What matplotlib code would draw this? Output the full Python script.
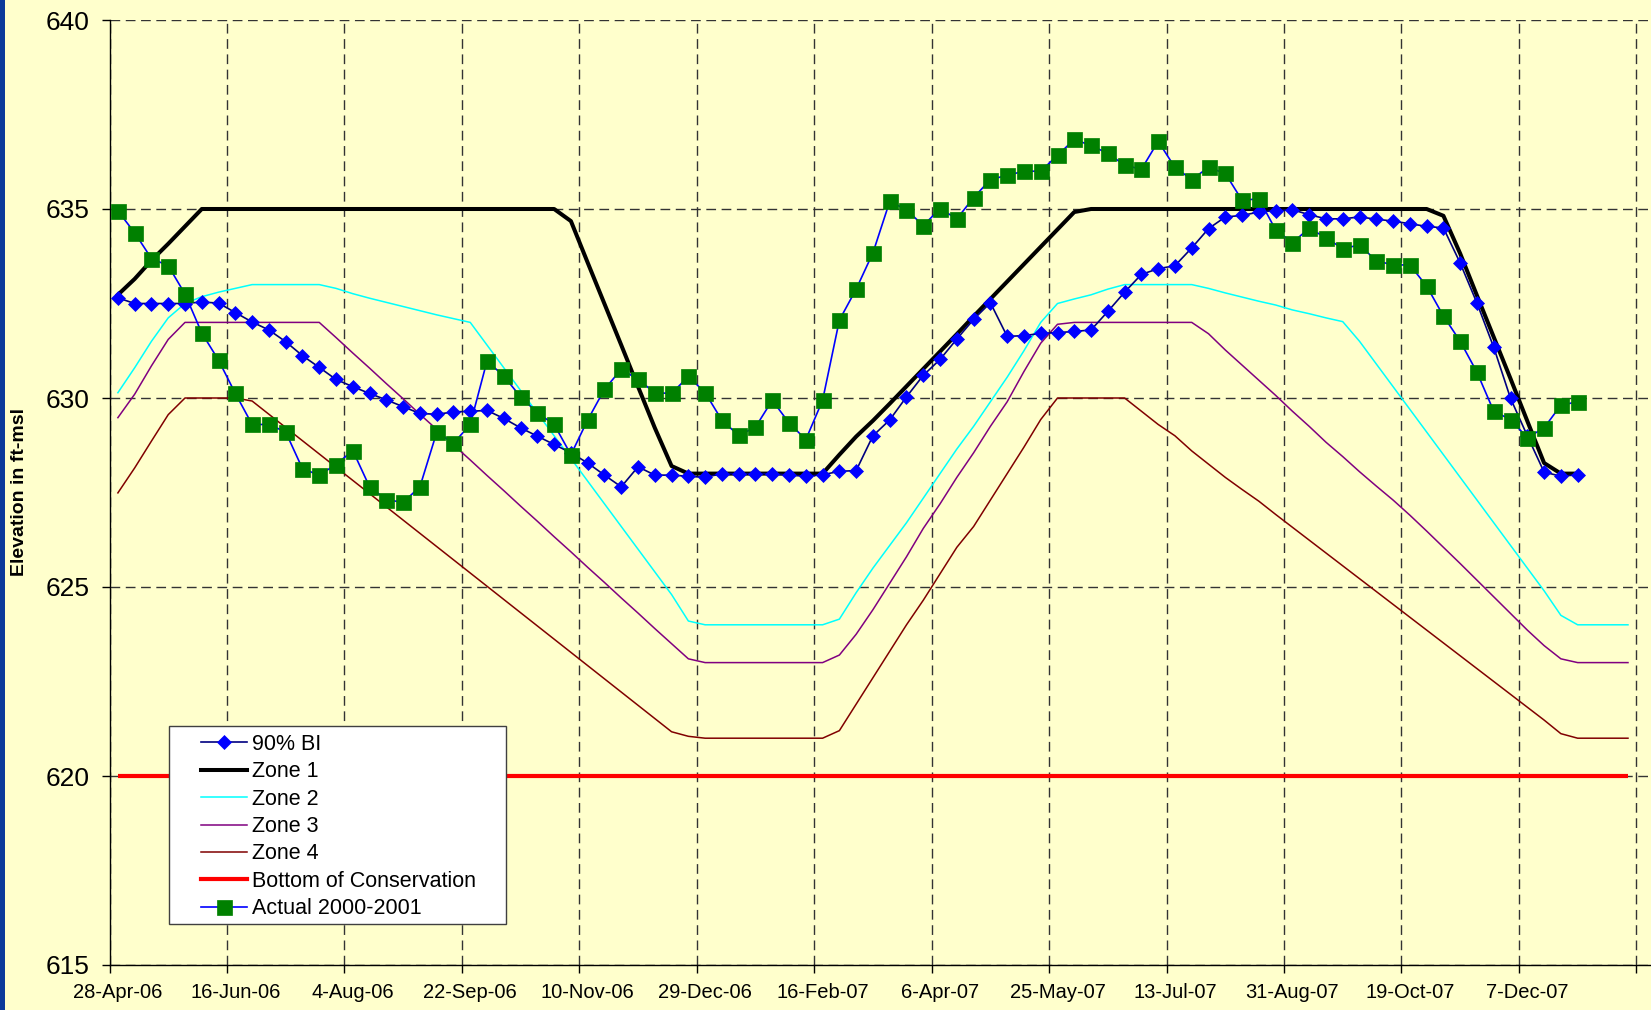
import numpy as np
import matplotlib
matplotlib.use("Agg")
import matplotlib.pyplot as plt
from matplotlib.patches import Rectangle
from matplotlib.lines import Line2D

plt.rcParams['font.family'] = ['Liberation Sans', 'DejaVu Sans']

# weekly categories, labels every 7 weeks
tick_labels = ["28-Apr-06", "16-Jun-06", "4-Aug-06", "22-Sep-06", "10-Nov-06",
               "29-Dec-06", "16-Feb-07", "6-Apr-07", "25-May-07", "13-Jul-07",
               "31-Aug-07", "19-Oct-07", "7-Dec-07"]

bi90 = [632.65, 632.50, 632.50, 632.50, 632.50, 632.54, 632.51, 632.26, 632.01, 631.80,
        631.49, 631.12, 630.81, 630.49, 630.30, 630.12, 629.95, 629.77, 629.59, 629.57,
        629.63, 629.65, 629.67, 629.46, 629.21, 628.99, 628.77, 628.55, 628.28, 627.96,
        627.65, 628.18, 627.96, 627.96, 627.93, 627.90, 628.00, 628.00, 628.00, 628.00,
        627.96, 627.93, 627.97, 628.06, 628.08, 629.00, 629.42, 630.03, 630.60, 631.02,
        631.56, 632.08, 632.52, 631.63, 631.65, 631.71, 631.73, 631.76, 631.80, 632.29,
        632.80, 633.27, 633.42, 633.50, 633.97, 634.48, 634.79, 634.83, 634.92, 634.96,
        634.98, 634.85, 634.74, 634.74, 634.79, 634.73, 634.68, 634.61, 634.54, 634.50,
        633.57, 632.51, 631.34, 629.99, 629.00, 628.04, 627.93, 627.97]

zone1 = [632.73, 633.15, 633.64, 634.08, 634.54, 635.0,
         635.0, 635.0, 635.0, 635.0, 635.0, 635.0, 635.0, 635.0, 635.0, 635.0, 635.0,
         635.0, 635.0, 635.0, 635.0, 635.0, 635.0, 635.0, 635.0, 635.0, 635.0,
         634.68, 633.58, 632.49, 631.40, 630.30, 629.21, 628.20,
         628.0, 628.0, 628.0, 628.0, 628.0, 628.0, 628.0, 628.0, 628.0,
         628.50, 628.98, 629.40, 629.85, 630.31, 630.77, 631.23, 631.69, 632.16, 632.62,
         633.08, 633.54, 634.00, 634.46, 634.92,
         635.0, 635.0, 635.0, 635.0, 635.0, 635.0, 635.0, 635.0, 635.0, 635.0, 635.0,
         635.0, 635.0, 635.0, 635.0, 635.0, 635.0, 635.0, 635.0, 635.0, 635.0,
         634.82, 633.82, 632.71, 631.61, 630.51, 629.39, 628.28, 628.0, 628.0]

zone2 = [630.14, 630.80, 631.50, 632.12, 632.50, 632.68, 632.80, 632.90, 633.0, 633.0,
         633.0, 633.0, 633.0, 632.90, 632.76, 632.64, 632.53, 632.42, 632.31, 632.20,
         632.10, 632.00, 631.40, 630.80, 630.20, 629.60, 629.00, 628.40, 627.80, 627.20,
         626.60, 626.00, 625.40, 624.80, 624.10, 624.0, 624.0, 624.0, 624.0, 624.0,
         624.0, 624.0, 624.0, 624.15, 624.85, 625.50, 626.10, 626.70, 627.35, 628.00,
         628.65, 629.25, 629.90, 630.55, 631.25, 632.00, 632.50, 632.62, 632.73, 632.88,
         633.0, 633.0, 633.0, 633.0, 633.0, 632.90, 632.78, 632.67, 632.56, 632.46,
         632.33, 632.23, 632.12, 632.02, 631.50, 630.90, 630.30, 629.70, 629.10, 628.50,
         627.90, 627.30, 626.70, 626.10, 625.50, 624.90, 624.25, 624.0, 624.0, 624.0,
         624.0]

zone3 = [629.48, 630.10, 630.85, 631.55, 632.0, 632.0, 632.0, 632.0, 632.0, 632.0,
         632.0, 632.0, 632.0, 631.60, 631.19, 630.79, 630.38, 629.98, 629.57, 629.17,
         628.76, 628.36, 627.95, 627.55, 627.14, 626.74, 626.33, 625.93, 625.52, 625.12,
         624.71, 624.31, 623.90, 623.50, 623.10, 623.0, 623.0, 623.0, 623.0, 623.0,
         623.0, 623.0, 623.0, 623.20, 623.75, 624.40, 625.10, 625.80, 626.55, 627.20,
         627.90, 628.55, 629.25, 629.90, 630.70, 631.45, 631.95, 632.0, 632.0, 632.0,
         632.0, 632.0, 632.0, 632.0, 632.0, 631.70, 631.27, 630.87, 630.47, 630.07,
         629.65, 629.25, 628.83, 628.45, 628.05, 627.67, 627.30, 626.90, 626.48, 626.05,
         625.62, 625.18, 624.74, 624.30, 623.86, 623.45, 623.10, 623.0, 623.0, 623.0,
         623.0]

zone4 = [627.49, 628.15, 628.86, 629.56, 630.0, 630.0, 630.0, 630.0, 629.92, 629.57,
         629.22, 628.87, 628.52, 628.17, 627.82, 627.47, 627.12, 626.77, 626.42, 626.07,
         625.72, 625.37, 625.02, 624.67, 624.32, 623.97, 623.62, 623.27, 622.92, 622.57,
         622.22, 621.87, 621.52, 621.17, 621.05, 621.0, 621.0, 621.0, 621.0, 621.0,
         621.0, 621.0, 621.0, 621.20, 621.90, 622.60, 623.30, 624.00, 624.65, 625.35,
         626.05, 626.60, 627.30, 628.00, 628.70, 629.43, 630.0, 630.0, 630.0, 630.0,
         630.0, 629.65, 629.30, 629.00, 628.60, 628.25, 627.90, 627.58, 627.27, 626.92,
         626.58, 626.24, 625.90, 625.56, 625.22, 624.88, 624.54, 624.20, 623.86, 623.52,
         623.18, 622.84, 622.50, 622.16, 621.82, 621.48, 621.12, 621.0, 621.0, 621.0,
         621.0]

bottom_cons = 620.0

actual = [634.95, 634.37, 633.69, 633.50, 632.75, 631.72, 631.00, 630.12, 629.30, 629.30,
          629.10, 628.13, 627.96, 628.24, 628.61, 627.65, 627.31, 627.24, 627.65, 629.09,
          628.80, 629.30, 630.98, 630.58, 630.03, 629.61, 629.30, 628.50, 629.42, 630.23,
          630.76, 630.49, 630.14, 630.12, 630.57, 630.14, 629.41, 629.01, 629.23, 629.94,
          629.34, 628.90, 629.94, 632.06, 632.88, 633.84, 635.20, 634.98, 634.56, 635.01,
          634.74, 635.30, 635.78, 635.89, 636.00, 636.00, 636.42, 636.84, 636.68, 636.47,
          636.16, 636.05, 636.79, 636.10, 635.78, 636.10, 635.94, 635.23, 635.27, 634.45,
          634.11, 634.49, 634.24, 633.95, 634.05, 633.63, 633.52, 633.52, 632.96, 632.17,
          631.50, 630.68, 629.65, 629.43, 628.95, 629.21, 629.81, 629.90]

W, H = 1651, 1010
fig = plt.figure(figsize=(W / 100, H / 100), dpi=100, facecolor='#FFFFCC')
ax = fig.add_axes([109.5 / W, 1 - 965 / H, 1 - 109.5 / W, (965 - 20) / H])
ax.set_facecolor('#FFFFCC')

xz = np.arange(len(zone2))
xs = np.arange(len(bi90))

ax.plot(xz, zone2, color='#00FFFF', lw=1.1, zorder=2)
ax.plot(xz, zone3, color='#800080', lw=1.1, zorder=2)
ax.plot(xz, zone4, color='#800000', lw=1.1, zorder=2)
ax.plot(xz, np.full(len(xz), bottom_cons), color='#FF0000', lw=3.0, zorder=2,
        solid_capstyle='butt')
ax.plot(xs, zone1, color='black', lw=2.9, zorder=2.2)
ax.plot(xs, bi90, color='#000080', lw=1.2, marker='D', ms=7.2, mew=0.5,
        mfc='#0000FF', mec='#0000FF', zorder=3)
ax.plot(xs, actual, color='#0000FF', lw=1.2, marker='s', ms=10.8, mew=0.5,
        mfc='#008000', mec='#008000', zorder=4)

ax.set_ylim(615, 640)
ax.set_xlim(-0.5, (W - 118.7) / 16.77)

ax.set_yticks(np.arange(615, 641, 5))
ax.set_xticks(np.arange(-0.5, 91, 7))
ax.set_xticklabels([])
ax.set_xticks(np.arange(0, 85, 7), minor=True)
ax.set_xticklabels(tick_labels, minor=True)

ax.tick_params(axis='y', direction='out', length=5.8, width=1.0, labelsize=19, pad=8.5)
ax.tick_params(axis='x', which='major', direction='out', length=5.8, width=1.0)
ax.tick_params(axis='x', which='minor', length=0, labelsize=14.5, pad=13)

dash = (0, (7, 4))
ax.grid(True, which='major', color='#333333', lw=1.0, linestyle=dash, zorder=1)
ax.set_axisbelow(True)

for side in ['top', 'right']:
    ax.spines[side].set_visible(False)
for side in ['left', 'bottom']:
    ax.spines[side].set_linewidth(1.0)
    ax.spines[side].set_color('black')

fig.text(19 / W, 1 - 492 / H, "Elevation in ft-msl", rotation=90, fontsize=14,
         fontweight='bold', ha='center', va='center')

# dark blue strip on the left edge
fig.patches.append(Rectangle((0, 0), 5 / W, 1, transform=fig.transFigure,
                             facecolor='#0B3A9A', edgecolor='none', zorder=3))

# legend box
fig.patches.append(Rectangle((168.5 / W, 1 - 923.5 / H), 337 / W, 198 / H,
                             transform=fig.transFigure, facecolor='white',
                             edgecolor='#404040', lw=1.0, zorder=4))
handles = [
    Line2D([], [], color='#000080', lw=1.2, marker='D', ms=7.2, mew=0.5,
           mfc='#0000FF', mec='#0000FF'),
    Line2D([], [], color='black', lw=2.9),
    Line2D([], [], color='#00FFFF', lw=1.1),
    Line2D([], [], color='#800080', lw=1.1),
    Line2D([], [], color='#800000', lw=1.1),
    Line2D([], [], color='#FF0000', lw=3.0),
    Line2D([], [], color='#0000FF', lw=1.2, marker='s', ms=10.8, mew=0.5,
           mfc='#008000', mec='#008000'),
]
labels = ["90% BI", "Zone 1", "Zone 2", "Zone 3", "Zone 4",
          "Bottom of Conservation", "Actual 2000-2001"]
leg = fig.legend(handles, labels, loc='upper left',
                 bbox_to_anchor=(200.5 / W, 1 - 734 / H), frameon=False,
                 fontsize=15.5, borderpad=0, borderaxespad=0, handlelength=2.17,
                 handletextpad=0.2, labelspacing=0.295, numpoints=1)
leg.set_zorder(5)

fig.savefig("out.png", dpi=100, facecolor=fig.get_facecolor())
